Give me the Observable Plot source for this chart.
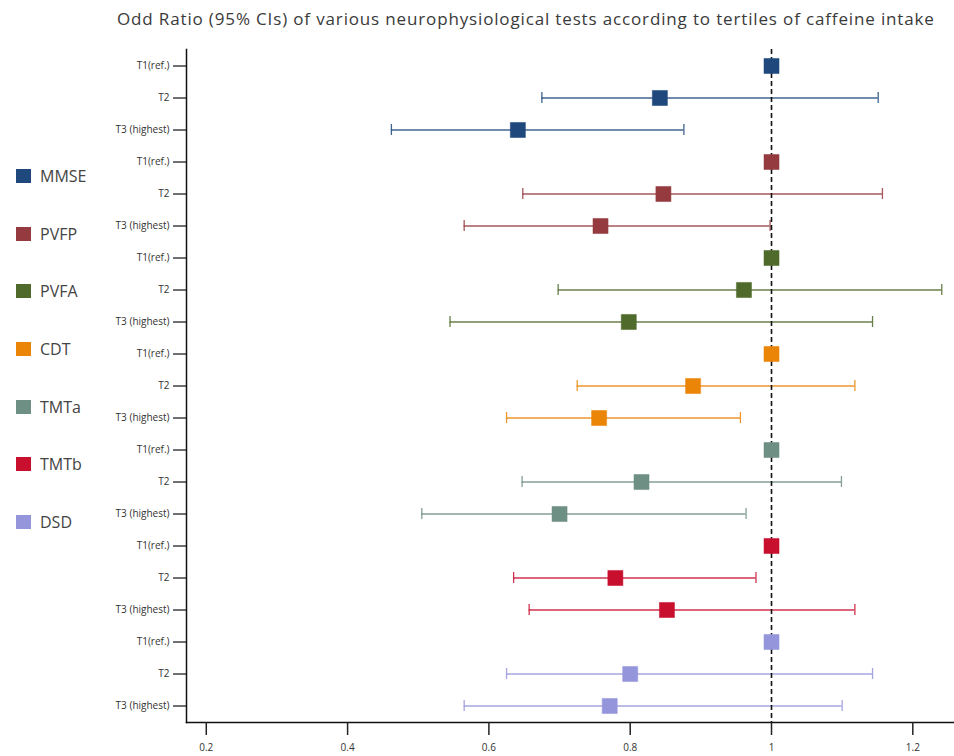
<!DOCTYPE html>
<html><head><meta charset="utf-8">
<script src="https://cdn.jsdelivr.net/npm/d3@7"></script>
<script src="https://cdn.jsdelivr.net/npm/@observablehq/plot@0.6"></script>
<style>
body{margin:0;background:#fff;font-family:"Open Sans",sans-serif;}
#wrap{position:relative;width:954px;height:756px;overflow:hidden;background:#fff;}
#title{position:absolute;left:117px;top:2px;height:34px;line-height:34px;font-size:17px;letter-spacing:0.85px;color:#3a3a3a;white-space:nowrap;}
#chart{position:absolute;left:0;top:40px;}
#legend{position:absolute;left:16px;top:147px;}
.item{height:57.7px;display:flex;align-items:center;font-size:16px;color:#444;}
.sw{width:15px;height:14px;margin-right:9px;}
</style></head>
<body><div id="wrap"><div id="title">Odd Ratio (95% CIs) of various neurophysiological tests according to tertiles of caffeine intake</div><div id="chart"></div><div id="legend"></div></div>
<script>
const tests = ["MMSE", "PVFP", "PVFA", "CDT", "TMTa", "TMTb", "DSD"];
const testColors = ["#1f497d", "#953a3e", "#4f6a2b", "#ea8508", "#6e8f84", "#c8102e", "#9595dc"];
const tertiles = ["T1(ref.)", "T2", "T3 (highest)"];
const orT1 = [1, 1, 1, 1, 1, 1, 1];
const orT2 = [0.842, 0.847, 0.961, 0.889, 0.816, 0.779, 0.800];
const lowT2 = [0.675, 0.648, 0.698, 0.725, 0.647, 0.635, 0.625];
const upT2 = [1.151, 1.157, 1.241, 1.118, 1.099, 0.978, 1.143];
const orT3 = [0.641, 0.758, 0.798, 0.756, 0.700, 0.852, 0.771];
const lowT3 = [0.462, 0.565, 0.545, 0.625, 0.505, 0.657, 0.565];
const upT3 = [0.876, 0.998, 1.143, 0.956, 0.964, 1.118, 1.100];
const xTicks = [0.2, 0.4, 0.6, 0.8, 1, 1.2];

const rows = [];
tests.forEach((t, i) => {
  rows.push({id: t + "|" + tertiles[0], or: orT1[i], lo: null, hi: null, color: testColors[i]});
  rows.push({id: t + "|" + tertiles[1], or: orT2[i], lo: lowT2[i], hi: upT2[i], color: testColors[i]});
  rows.push({id: t + "|" + tertiles[2], or: orT3[i], lo: lowT3[i], hi: upT3[i], color: testColors[i]});
});
const ci = rows.filter(d => d.lo != null);

const chart = Plot.plot({
  width: 954,
  height: 716,
  marginLeft: 186,
  marginRight: 0,
  marginTop: 9,
  marginBottom: 34,
  style: {fontFamily: "Open Sans", fontSize: "10px", color: "#333", background: "transparent"},
  x: {domain: [0.172, 1.259], label: null},
  y: {type: "band", domain: rows.map(d => d.id), paddingInner: 0.66, paddingOuter: 0.167, label: null},
  color: {type: "identity"},
  marks: [
    Plot.frame({anchor: "left", stroke: "#111", strokeWidth: 1.5}),
    Plot.frame({anchor: "bottom", stroke: "#111", strokeWidth: 1.5}),
    Plot.axisY({label: null, tickSize: 13, tickPadding: 4, strokeWidth: 1.3, stroke: "#222", tickFormat: d => d.split("|")[1], fontSize: 10, fill: "#333"}),
    Plot.axisX({label: null, ticks: xTicks, tickSize: 13, tickPadding: 8, strokeWidth: 1.5, stroke: "#222", tickFormat: d => String(d), fontSize: 10, fill: "#333"}),
    Plot.ruleY(ci, {y: "id", x1: "lo", x2: "hi", stroke: "color", strokeWidth: 1.3, strokeOpacity: 0.85}),
    Plot.tickX(ci, {x: "lo", y: "id", stroke: "color", strokeWidth: 1.3, strokeOpacity: 0.85}),
    Plot.tickX(ci, {x: "hi", y: "id", stroke: "color", strokeWidth: 1.3, strokeOpacity: 0.85}),
    Plot.ruleX([1], {stroke: "#111", strokeWidth: 1.6, strokeDasharray: "5,3"}),
    Plot.dot(rows, {x: "or", y: "id", symbol: "square", r: 8.5, fill: "color", stroke: "color", strokeWidth: 0.5})
  ]
});
document.getElementById("chart").appendChild(chart);

const legend = document.getElementById("legend");
tests.forEach((t, i) => {
  const item = document.createElement("div");
  item.className = "item";
  const sw = document.createElement("span");
  sw.className = "sw";
  sw.style.background = testColors[i];
  const lab = document.createElement("span");
  lab.textContent = t;
  item.appendChild(sw);
  item.appendChild(lab);
  legend.appendChild(item);
});
</script>
</body></html>
